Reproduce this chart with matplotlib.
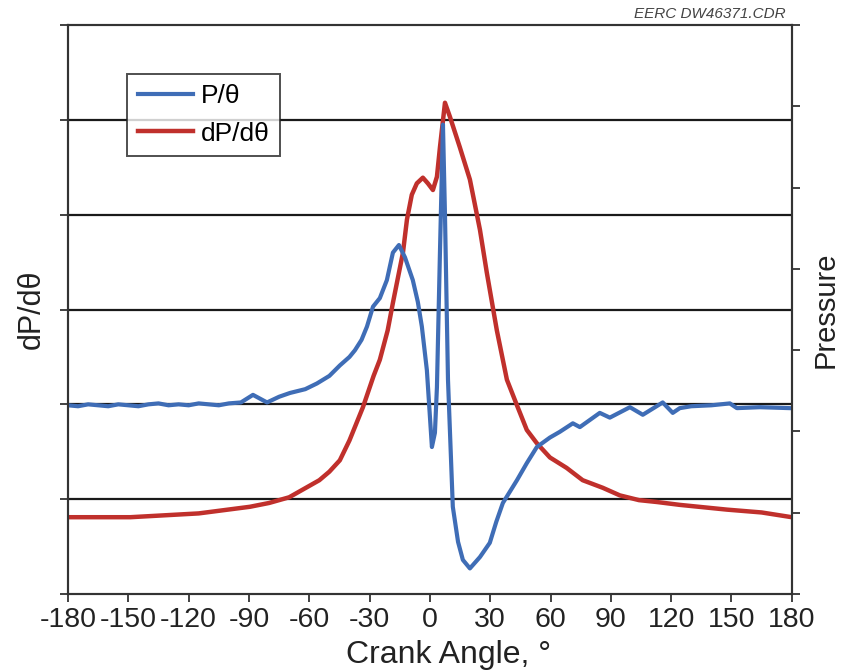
import matplotlib
matplotlib.use("Agg")
import matplotlib.pyplot as plt
import numpy as np

plt.rcParams['font.family'] = ['Liberation Sans', 'DejaVu Sans']

# Blue series: P/theta (left-axis units)
blue_deg = [-180, -175, -170, -165, -160, -155, -150, -145, -140, -135, -130, -125,
            -120, -115, -110, -105, -100, -94, -88, -81, -75, -69.6, -62, -56.2,
            -50, -44.8, -40, -37.3, -34, -31.3, -28.3, -24.9, -21.4, -18.4, -15.4,
            -12.4, -8.5, -6, -4.0, -1.5, 1.0, 2.5, 3.5, 5.0, 6.5, 7.5, 9.0, 11.4,
            14, 16.4, 19.9, 24.9, 29.8, 33, 36.3, 43.3, 48.2, 53.2, 59.7, 64.6,
            71.1, 74.6, 84.5, 89.5, 99.5, 105.9, 115.8, 120.8, 124.3, 130, 140,
            149.2, 152.7, 164.1, 179]
blue_val = [1.99, 1.98, 2.00, 1.99, 1.98, 2.00, 1.99, 1.98, 2.00, 2.01, 1.99, 2.00,
            1.99, 2.01, 2.00, 1.99, 2.01, 2.02, 2.10, 2.02, 2.08, 2.12, 2.16, 2.22,
            2.30, 2.41, 2.50, 2.57, 2.68, 2.82, 3.03, 3.12, 3.31, 3.60, 3.68,
            3.55, 3.31, 3.08, 2.82, 2.36, 1.55, 1.70, 2.18, 3.60, 4.95, 4.00, 2.26,
            0.92, 0.55, 0.36, 0.27, 0.39, 0.54, 0.76, 0.96, 1.20, 1.38, 1.55, 1.65,
            1.71, 1.80, 1.76, 1.91, 1.86, 1.97, 1.89, 2.02, 1.91, 1.96, 1.98, 1.99,
            2.01, 1.96, 1.97, 1.96]

# Red series: dP/dtheta (left-axis units)
red_deg = [-180, -149, -115, -89.5, -80, -70, -65, -60, -55, -50, -44.8, -40,
           -33.3, -28, -24.9, -21, -18.4, -13.4, -11.4, -9, -6.5, -3.5, -1, 1.5,
           3.5, 5.0, 7.5, 10.0, 14.9, 19.9, 24.9, 28.3, 33.3, 38.3, 43.3, 48.2,
           53.2, 59.7, 68, 76.0, 86, 94.5, 104, 113, 124.3, 147.7, 165, 180]
red_val = [0.81, 0.81, 0.85, 0.92, 0.96, 1.02, 1.08, 1.14, 1.20, 1.29, 1.41, 1.62,
           1.97, 2.30, 2.47, 2.78, 3.07, 3.60, 3.95, 4.21, 4.33, 4.39, 4.33, 4.26,
           4.40, 4.71, 5.18, 5.03, 4.71, 4.37, 3.84, 3.39, 2.78, 2.26, 1.99, 1.73,
           1.59, 1.44, 1.33, 1.20, 1.12, 1.04, 0.99, 0.97, 0.94, 0.89, 0.86, 0.81]

x_ticks = [-180, -150, -120, -90, -60, -30, 0, 30, 60, 90, 120, 150, 180]
left_ticks = [0, 1, 2, 3, 4, 5, 6]
grid_levels = [1, 2, 3, 4, 5]
right_ticks = [0, 1, 2, 3, 4, 5, 6, 7]

blue_c = '#3F6DB6'
red_c = '#C0302C'

fig = plt.figure(figsize=(8.47, 6.70), dpi=100)
ax = fig.add_axes([0.0803, 0.1134, 0.8545, 0.8493])

for g in grid_levels:
    ax.axhline(g, color='#1a1a1a', lw=1.6, zorder=1)

ax.plot(blue_deg, blue_val, color=blue_c, lw=3.0, label='P/θ', zorder=3,
        solid_joinstyle='round')
ax.plot(red_deg, red_val, color=red_c, lw=3.2, label='dP/dθ', zorder=2,
        solid_joinstyle='round')

ax.set_xlim(-180, 180)
ax.set_ylim(0, 6)
ax.set_xticks(x_ticks)
ax.set_xticklabels([str(t) for t in x_ticks], fontsize=20.5, color='#222222')
ax.set_yticks(left_ticks)
ax.set_yticklabels([])
ax.tick_params(axis='both', direction='out', length=6, width=1.3, colors='#333333',
               labelcolor='#222222', pad=3)
for s in ax.spines.values():
    s.set_linewidth(1.5)
    s.set_color('#333333')

ax.set_xlabel('Crank Angle, °', fontsize=23, color='#222222')
ax.xaxis.set_label_coords(0.526, -0.080)
ax.set_ylabel('dP/dθ', fontsize=22, color='#222222', labelpad=6)

ax2 = ax.twinx()
ax2.set_ylim(0, 7)
ax2.set_yticks(right_ticks)
ax2.set_yticklabels([])
ax2.tick_params(axis='y', direction='out', length=6, width=1.3, colors='#333333')
for s in ax2.spines.values():
    s.set_linewidth(1.5)
    s.set_color('#333333')
ax2.set_ylabel('Pressure', fontsize=21, color='#222222', labelpad=5)

leg = ax.legend(loc='upper left', bbox_to_anchor=(0.0815, 0.914), borderaxespad=0,
                fontsize=19, frameon=True, fancybox=False, edgecolor='#222222',
                handlelength=2.1, handletextpad=0.3, borderpad=0.4, labelspacing=0.5)
leg.get_frame().set_linewidth(1.4)
leg.set_zorder(5)

fig.text(0.927, 0.968, 'EERC DW46371.CDR', fontsize=11, style='italic',
         color='#444444', ha='right', va='bottom')

fig.savefig('out.png', dpi=100)
